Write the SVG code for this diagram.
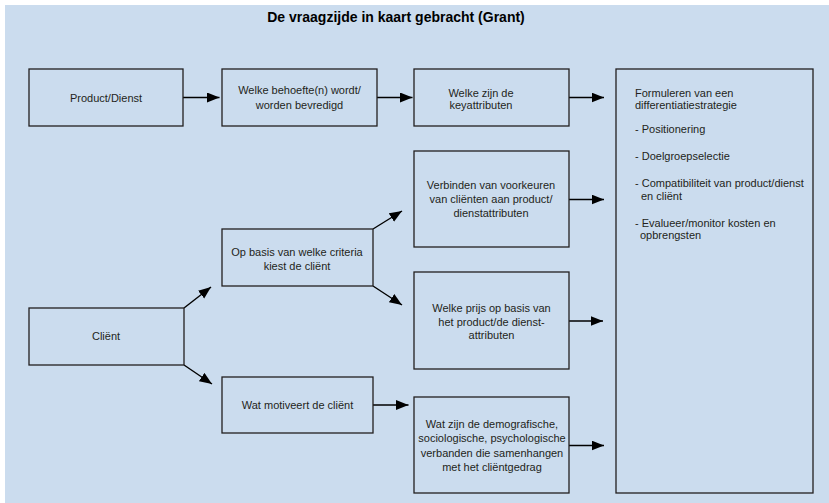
<svg xmlns="http://www.w3.org/2000/svg" width="829" height="503" viewBox="0 0 829 503">
<style>
.bg{fill:#cbdcee}
.box{fill:#cbdcee;stroke:#231f20;stroke-width:1.3}
.t{font-family:"Liberation Sans",Arial,sans-serif;font-size:11px;fill:#231f20;text-anchor:middle}
.l{text-anchor:start}
.title{font-family:"Liberation Sans",Arial,sans-serif;font-size:14px;font-weight:bold;fill:#000;text-anchor:middle}
.c{stroke:#000;stroke-width:1.4;fill:none;marker-end:url(#ah)}
</style>
<defs>
<marker id="ah" markerUnits="userSpaceOnUse" markerWidth="13" markerHeight="11" refX="12.5" refY="5" orient="auto">
<path d="M0,0 L12.5,5 L0,10 z" fill="#000"/>
</marker>
</defs>
<rect x="0" y="0" width="829" height="503" fill="#ffffff"/>
<rect class="bg" x="5" y="5" width="824" height="498"/>
<text class="title" x="396" y="21.5">De vraagzijde in kaart gebracht (Grant)</text>

<g id="connectors">
<line class="c" x1="183" y1="97.5" x2="219.5" y2="97.5"/>
<line class="c" x1="377" y1="97.5" x2="412.5" y2="97.5"/>
<line class="c" x1="569" y1="97.5" x2="604" y2="97.5"/>
<line class="c" x1="569" y1="199.5" x2="604" y2="199.5"/>
<line class="c" x1="569" y1="321" x2="603" y2="321"/>
<line class="c" x1="569" y1="445.5" x2="604" y2="445.5"/>
<line class="c" x1="373" y1="229" x2="402" y2="211"/>
<line class="c" x1="373" y1="286" x2="402" y2="305"/>
<line class="c" x1="184" y1="308" x2="211" y2="287"/>
<line class="c" x1="184" y1="365" x2="212" y2="384"/>
<line class="c" x1="373" y1="405" x2="408.5" y2="405"/>
</g>

<g id="product-dienst">
<rect class="box" x="29" y="69" width="154" height="57"/>
<text class="t" x="106" y="101.5">Product/Dienst</text>
</g>
<g id="behoefte">
<rect class="box" x="222" y="69" width="155" height="57"/>
<text class="t" x="299.5" y="93.5">Welke behoefte(n) wordt/</text>
<text class="t" x="299.5" y="108.5">worden bevredigd</text>
</g>
<g id="keyattributen">
<rect class="box" x="414" y="69" width="155" height="57"/>
<text class="t" x="481" y="96.5">Welke zijn de</text>
<text class="t" x="481" y="108.5">keyattributen</text>
</g>
<g id="strategie">
<rect class="box" x="616" y="69" width="197" height="424"/>
<text class="t l" x="635" y="96.5">Formuleren van een</text>
<text class="t l" x="635" y="108.5">differentiatiestrategie</text>
<text class="t l" x="635" y="133">- Positionering</text>
<text class="t l" x="635" y="160">- Doelgroepselectie</text>
<text class="t l" x="635" y="187">- Compatibiliteit van product/dienst</text>
<text class="t l" x="641" y="200">en cliënt</text>
<text class="t l" x="635" y="227">- Evalueer/monitor kosten en</text>
<text class="t l" x="640" y="239">opbrengsten</text>
</g>
<g id="verbinden">
<rect class="box" x="414" y="151" width="155" height="96"/>
<text class="t" x="491" y="189">Verbinden van voorkeuren</text>
<text class="t" x="491" y="203">van cliënten aan product/</text>
<text class="t" x="491" y="216.5">dienstattributen</text>
</g>
<g id="criteria">
<rect class="box" x="222" y="229" width="151" height="57"/>
<text class="t" x="297" y="256">Op basis van welke criteria</text>
<text class="t" x="297" y="270">kiest de cliënt</text>
</g>
<g id="prijs">
<rect class="box" x="414" y="272" width="155" height="97"/>
<text class="t" x="491.5" y="311.7">Welke prijs op basis van</text>
<text class="t" x="491.5" y="325.7">het product/de dienst-</text>
<text class="t" x="491.5" y="338.5">attributen</text>
</g>
<g id="client">
<rect class="box" x="29" y="308" width="155" height="57"/>
<text class="t" x="106" y="340">Cliënt</text>
</g>
<g id="motiveert">
<rect class="box" x="222" y="377" width="151" height="56"/>
<text class="t" x="297.5" y="409">Wat motiveert de cliënt</text>
</g>
<g id="demografisch">
<rect class="box" x="414" y="397" width="155" height="96"/>
<text class="t" x="492" y="428">Wat zijn de demografische,</text>
<text class="t" x="492" y="442.3">sociologische, psychologische</text>
<text class="t" x="492" y="456.5">verbanden die samenhangen</text>
<text class="t" x="492" y="470.7">met het cliëntgedrag</text>
</g>
</svg>
